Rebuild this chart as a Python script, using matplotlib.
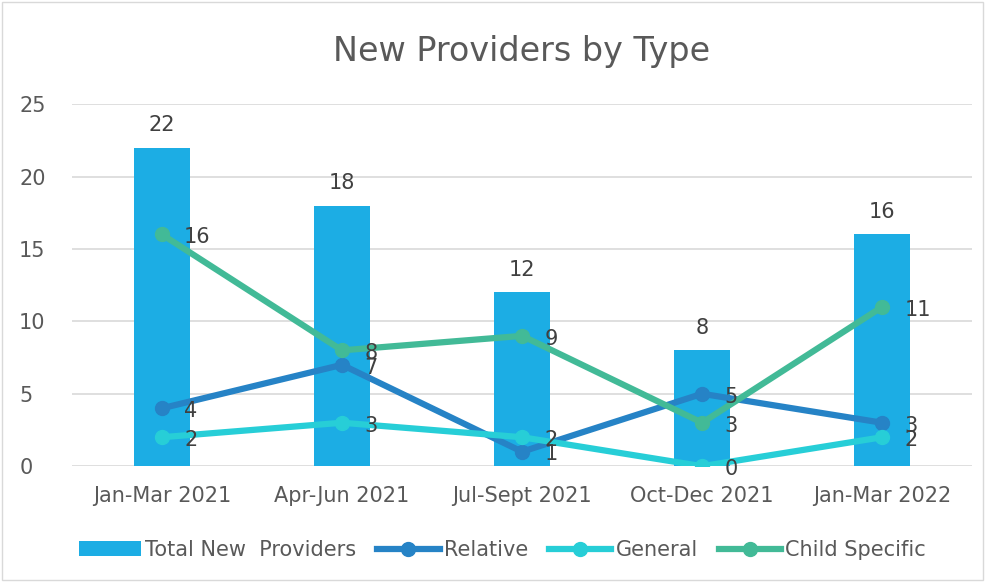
import matplotlib
matplotlib.use("Agg")
import matplotlib.pyplot as plt
import numpy as np

categories = ["Jan-Mar 2021", "Apr-Jun 2021", "Jul-Sept 2021", "Oct-Dec 2021", "Jan-Mar 2022"]
total = [22, 18, 12, 8, 16]
relative = [4, 7, 1, 5, 3]
general = [2, 3, 2, 0, 2]
child = [16, 8, 9, 3, 11]
yticks = [0, 5, 10, 15, 20, 25]

plt.rcParams['font.family'] = ['DejaVu Sans']
txt = '#595959'
lbl = '#404040'

fig = plt.figure(figsize=(9.85, 5.82), dpi=100)
fig.patches.append(plt.Rectangle((0.002, 0.003), 0.996, 0.994, transform=fig.transFigure,
                                 fill=False, edgecolor='#d9d9d9', lw=1))
ax = fig.add_axes([0.073, 0.199, 0.914, 0.622])
x = np.arange(len(categories))
bars = ax.bar(x, total, width=0.31, color='#1CADE4', label='Total New  Providers', zorder=2)
series = [(relative, '#2683C6', 'Relative'), (general, '#27CED7', 'General'), (child, '#42BA97', 'Child Specific')]
lines = []
for vals, c, name in series:
    ln, = ax.plot(x, vals, color=c, lw=4.5, marker='o', ms=10, label=name, zorder=3)
    lines.append(ln)
for xi, v in zip(x, total):
    ax.annotate(str(v), (xi, v), xytext=(0, 9), textcoords='offset points', ha='center', va='bottom',
                fontsize=15, color=lbl)
for vals, c, name in series:
    for xi, v in zip(x, vals):
        ax.annotate(str(v), (xi, v), xytext=(16, -2), textcoords='offset points', ha='left', va='center',
                    fontsize=15, color=lbl, zorder=4)

ax.set_xlim(-0.5, 4.5)
ax.set_ylim(0, 25)
ax.set_yticks(yticks)
ax.set_xticks(x)
ax.set_xticklabels(categories)
ax.tick_params(axis='both', length=0, labelsize=15, colors=txt)
ax.tick_params(axis='x', pad=14)
ax.tick_params(axis='y', pad=38)
for lab in ax.get_yticklabels():
    lab.set_horizontalalignment('left')
ax.grid(axis='y', color='#d9d9d9', lw=1.2, zorder=0)
for s in ax.spines.values():
    s.set_visible(False)
ax.set_title("New Providers by Type", fontsize=24, color=txt, pad=31)
h = [bars] + lines
l = ['Total New  Providers', 'Relative', 'General', 'Child Specific']
fig.legend(h, l, loc='center', bbox_to_anchor=(0.51, 0.055), ncol=4, frameon=False, fontsize=15,
           labelcolor=txt, handlelength=3.0, handletextpad=0.2, columnspacing=1.0)
fig.savefig('out.png', dpi=100)
